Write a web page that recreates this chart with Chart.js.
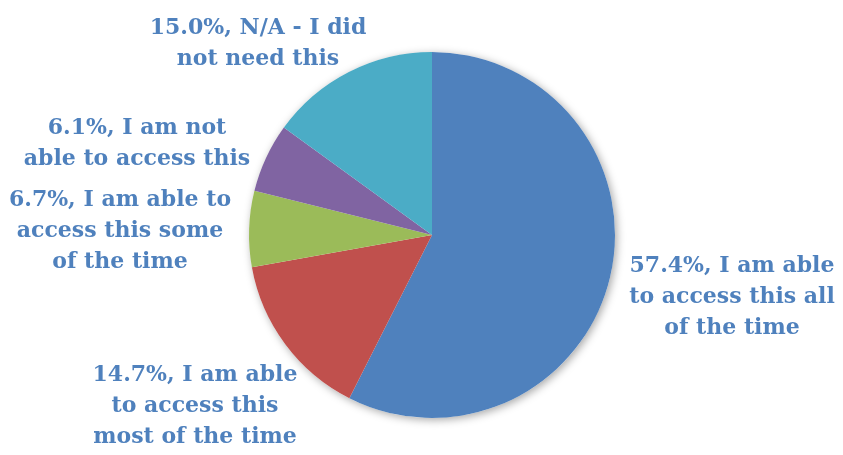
<!DOCTYPE html>
<html>
<head>
<meta charset="utf-8">
<script src="https://cdn.jsdelivr.net/npm/chart.js@4"></script>
<style>
  html, body { margin: 0; padding: 0; background: #fff; }
  #wrap { width: 843px; height: 455px; position: relative; }
</style>
</head>
<body>
<div id="wrap"><canvas id="pie-chart"></canvas></div>
<script>
// Survey answers, clockwise from 12 o'clock
const categories = [
  "I am able to access this all of the time",
  "I am able to access this most of the time",
  "I am able to access this some of the time",
  "I am not able to access this",
  "N/A - I did not need this"
];
const shares = [57.4, 14.7, 6.7, 6.1, 15.0];
const sliceColors = ["#4F81BD", "#C0504D", "#9BBB59", "#8064A2", "#4BACC6"];

// Wrapped label lines as they are printed beside each slice
const labelLines = [
  ["57.4%, I am able", "to access this all", "of the time"],
  ["14.7%, I am able", "to access this", "most of the time"],
  ["6.7%, I am able to", "access this some", "of the time"],
  ["6.1%, I am not", "able to access this"],
  ["15.0%, N/A - I did", "not need this"]
];

// Label block centers (x, first baseline y)
const labelAnchors = [
  [732, 272], [195, 381], [120, 206], [137, 134], [258, 34]
];

const LABEL_FONT = "bold 22px 'DejaVu Serif', serif";
const LINE_H = 31;

// Soft drop shadow behind the whole pie
const pieShadow = {
  id: "pieShadow",
  beforeDatasetsDraw(chart) {
    const arc = chart.getDatasetMeta(0).data[0];
    if (!arc) return;
    const ctx = chart.ctx;
    ctx.save();
    ctx.shadowColor = "rgba(0,0,0,0.35)";
    ctx.shadowBlur = 9;
    ctx.shadowOffsetX = 2;
    ctx.shadowOffsetY = 2;
    ctx.fillStyle = "#fff";
    ctx.beginPath();
    ctx.arc(arc.x, arc.y, arc.outerRadius, 0, Math.PI * 2);
    ctx.fill();
    ctx.restore();
  }
};

const outsideLabels = {
  id: "outsideLabels",
  afterDatasetsDraw(chart) {
    const ctx = chart.ctx;
    ctx.save();
    ctx.font = LABEL_FONT;
    ctx.fillStyle = "#4F81BD";
    ctx.textAlign = "center";
    ctx.textBaseline = "alphabetic";
    labelLines.forEach((lines, i) => {
      const [x, y] = labelAnchors[i];
      lines.forEach((t, j) => ctx.fillText(t, x, y + j * LINE_H));
    });
    ctx.restore();
  }
};

new Chart(document.getElementById("pie-chart").getContext("2d"), {
  type: "pie",
  data: {
    labels: categories,
    datasets: [{
      data: shares,
      backgroundColor: sliceColors,
      borderWidth: 0
    }]
  },
  options: {
    responsive: true,
    maintainAspectRatio: false,
    animation: false,
    layout: { padding: { top: 52, bottom: 37, left: 21, right: 0 } },
    plugins: {
      legend: { display: false },
      tooltip: { enabled: false }
    }
  },
  plugins: [pieShadow, outsideLabels]
});
</script>
</body>
</html>
